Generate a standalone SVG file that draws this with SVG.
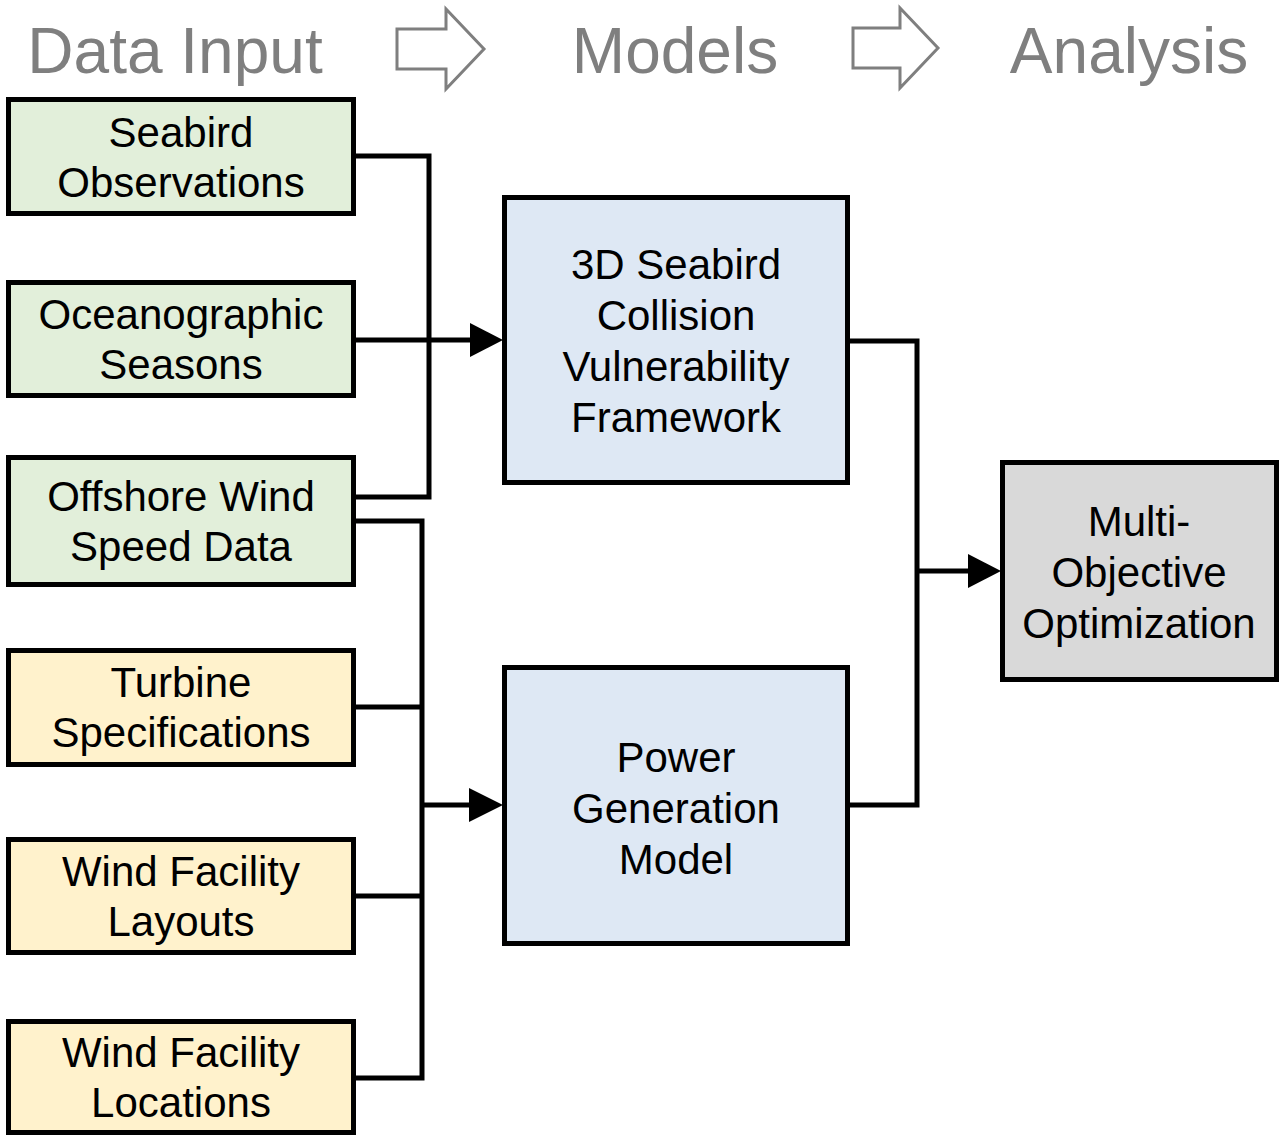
<svg xmlns="http://www.w3.org/2000/svg" width="1281" height="1138" viewBox="0 0 1281 1138">
  <style>
    text { font-family: "Liberation Sans", Arial, sans-serif; text-anchor: middle; }
    .stage { font-size: 64px; fill: #7f7f7f; }
    .label { font-size: 42px; fill: #000; }
    .box { stroke: #000; stroke-width: 5; }
    .green { fill: #e2efda; }
    .yellow { fill: #fff2cc; }
    .blue { fill: #dee8f4; }
    .grey { fill: #d9d9d9; }
    .wire { fill: none; stroke: #000; stroke-width: 5; stroke-linejoin: miter; }
    .head { fill: #000; }
    .stage-arrow { fill: #fff; stroke: #7f7f7f; stroke-width: 3; }
  </style>

  <rect width="1281" height="1138" fill="#fff"/>

  <!-- stage headings -->
  <g id="stages">
    <text class="stage" x="175" y="73">Data Input</text>
    <polygon class="stage-arrow" points="397,29 446,29 446,9 484,49 446,89 446,69 397,69"/>
    <text class="stage" x="675" y="73">Models</text>
    <polygon class="stage-arrow" points="853,28 900,28 900,8 938,48 900,88 900,68 853,68"/>
    <text class="stage" x="1129" y="73">Analysis</text>
  </g>

  <!-- connectors -->
  <g id="connectors">
    <path class="wire" d="M355,156 H429 V497 H355"/>
    <path class="wire" d="M355,340 H472"/>
    <polygon class="head" points="470,323 503,340 470,357"/>

    <path class="wire" d="M355,521 H422 V1078 H355"/>
    <path class="wire" d="M355,707 H422"/>
    <path class="wire" d="M355,896 H422"/>
    <path class="wire" d="M422,805 H472"/>
    <polygon class="head" points="469,788 503,805 469,822"/>

    <path class="wire" d="M849,341 H917 V805 H849"/>
    <path class="wire" d="M917,571 H970"/>
    <polygon class="head" points="968,554 1001,571 968,588"/>
  </g>

  <!-- data inputs -->
  <g id="seabird-observations">
    <rect class="box green" x="8.5" y="99.5" width="345" height="114"/>
    <text class="label" x="181" y="147">Seabird</text>
    <text class="label" x="181" y="197">Observations</text>
  </g>
  <g id="oceanographic-seasons">
    <rect class="box green" x="8.5" y="282.5" width="345" height="113"/>
    <text class="label" x="181" y="329">Oceanographic</text>
    <text class="label" x="181" y="379">Seasons</text>
  </g>
  <g id="offshore-wind-speed">
    <rect class="box green" x="8.5" y="457.5" width="345" height="127"/>
    <text class="label" x="181" y="511">Offshore Wind</text>
    <text class="label" x="181" y="561">Speed Data</text>
  </g>
  <g id="turbine-specifications">
    <rect class="box yellow" x="8.5" y="650.5" width="345" height="114"/>
    <text class="label" x="181" y="697">Turbine</text>
    <text class="label" x="181" y="747">Specifications</text>
  </g>
  <g id="facility-layouts">
    <rect class="box yellow" x="8.5" y="839.5" width="345" height="113"/>
    <text class="label" x="181" y="886">Wind Facility</text>
    <text class="label" x="181" y="936">Layouts</text>
  </g>
  <g id="facility-locations">
    <rect class="box yellow" x="8.5" y="1021.5" width="345" height="111"/>
    <text class="label" x="181" y="1067">Wind Facility</text>
    <text class="label" x="181" y="1117">Locations</text>
  </g>

  <!-- models -->
  <g id="collision-framework">
    <rect class="box blue" x="504.5" y="197.5" width="343" height="285"/>
    <text class="label" x="676" y="279">3D Seabird</text>
    <text class="label" x="676" y="330">Collision</text>
    <text class="label" x="676" y="381">Vulnerability</text>
    <text class="label" x="676" y="432">Framework</text>
  </g>
  <g id="power-generation">
    <rect class="box blue" x="504.5" y="667.5" width="343" height="276"/>
    <text class="label" x="676" y="772">Power</text>
    <text class="label" x="676" y="823">Generation</text>
    <text class="label" x="676" y="874">Model</text>
  </g>

  <!-- analysis -->
  <g id="optimization">
    <rect class="box grey" x="1002.5" y="462.5" width="274" height="217"/>
    <text class="label" x="1139" y="536">Multi-</text>
    <text class="label" x="1139" y="587">Objective</text>
    <text class="label" x="1139" y="638">Optimization</text>
  </g>
</svg>
